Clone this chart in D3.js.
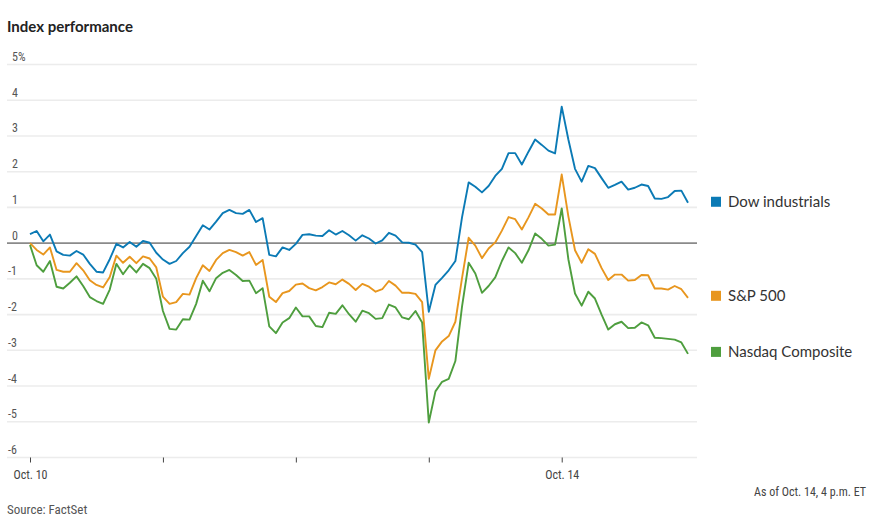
<!DOCTYPE html>
<html>
<head>
<meta charset="utf-8">
<script src="https://cdn.jsdelivr.net/npm/d3@7"></script>
<style>
  html, body { margin: 0; padding: 0; background: #fff; }
  svg { display: block; }
  .narrow { font-family: "Liberation Sans Narrow", "Arial Narrow", "Roboto Condensed", Roboto, "Liberation Sans", sans-serif; }
</style>
</head>
<body>
<svg id="chart" width="880" height="518"></svg>
<script>
// ---- Data (percent change vs. Oct. 7 close), sampled 20 steps per trading day ----
const seriesNames = ["Dow industrials", "S&P 500", "Nasdaq Composite"];
const seriesColors = ["#0b7ab5", "#e8961e", "#4e9e3e"];
const stepsPerDay = 20;

const dow = [
  0.25, 0.34, 0.05, 0.24, -0.23, -0.33, -0.35, -0.22, -0.32, -0.58,
  -0.80, -0.82, -0.45, -0.02, -0.12, 0.03, -0.10, 0.06, 0.01, -0.27,
  -0.46, -0.58, -0.50, -0.28, -0.10, 0.20, 0.50, 0.38, 0.60, 0.84,
  0.93, 0.84, 0.82, 0.93, 0.59, 0.70, -0.33, -0.37, -0.12, -0.19,
  -0.02, 0.23, 0.25, 0.21, 0.20, 0.36, 0.24, 0.34, 0.22, 0.07,
  0.22, 0.13, -0.01, 0.08, 0.29, 0.21, 0.02, 0.01, -0.04, -0.25,
  -1.92, -1.17, -0.97, -0.76, -0.50, 0.72, 1.70, 1.58, 1.42, 1.60,
  1.88, 2.08, 2.52, 2.52, 2.20, 2.56, 2.90, 2.75, 2.59, 2.51,
  3.82, 2.90, 2.08, 1.72, 2.16, 2.10, 1.82, 1.55, 1.63, 1.72,
  1.50, 1.55, 1.64, 1.60, 1.25, 1.24, 1.29, 1.46, 1.47, 1.13
];

const sp500 = [
  0.00, -0.19, -0.32, -0.12, -0.75, -0.80, -0.80, -0.56, -0.76, -1.04,
  -1.17, -1.24, -0.95, -0.35, -0.55, -0.38, -0.56, -0.37, -0.43, -0.68,
  -1.50, -1.70, -1.65, -1.42, -1.44, -0.98, -0.62, -0.78, -0.47, -0.28,
  -0.19, -0.25, -0.35, -0.25, -0.61, -0.47, -1.50, -1.65, -1.40, -1.34,
  -1.16, -1.13, -1.26, -1.32, -1.23, -1.10, -1.15, -1.02, -1.14, -1.31,
  -1.14, -1.22, -1.36, -1.29, -1.06, -1.19, -1.39, -1.39, -1.42, -1.65,
  -3.80, -3.00, -2.75, -2.60, -2.20, -0.98, 0.15, -0.07, -0.42, -0.15,
  0.02, 0.35, 0.73, 0.67, 0.38, 0.72, 1.10, 0.97, 0.80, 0.80,
  1.92, 0.75, -0.20, -0.55, -0.17, -0.30, -0.70, -1.03, -0.88, -0.88,
  -1.05, -1.03, -0.89, -0.90, -1.27, -1.27, -1.30, -1.20, -1.29, -1.53
];

const nasdaq = [
  -0.05, -0.62, -0.80, -0.50, -1.22, -1.27, -1.11, -0.93, -1.20, -1.51,
  -1.62, -1.70, -1.30, -0.58, -0.87, -0.62, -0.82, -0.58, -0.70, -1.00,
  -1.90, -2.40, -2.42, -2.13, -2.14, -1.70, -1.05, -1.35, -0.98, -0.83,
  -0.75, -0.89, -1.06, -1.05, -1.40, -1.26, -2.33, -2.52, -2.22, -2.10,
  -1.80, -2.05, -2.05, -2.32, -2.35, -1.95, -1.98, -1.74, -1.99, -2.20,
  -1.89, -1.96, -2.12, -2.10, -1.72, -1.80, -2.08, -2.13, -1.90, -2.22,
  -5.02, -4.15, -3.88, -3.80, -3.30, -1.78, -0.55, -0.85, -1.39, -1.20,
  -0.96, -0.50, -0.12, -0.28, -0.55, -0.20, 0.27, 0.12, -0.07, -0.04,
  0.97, -0.45, -1.41, -1.75, -1.36, -1.55, -2.00, -2.42, -2.27, -2.20,
  -2.38, -2.37, -2.22, -2.30, -2.65, -2.66, -2.68, -2.70, -2.78, -3.10
];

const yTicks = [5, 4, 3, 2, 1, 0, -1, -2, -3, -4, -5, -6];
const dayTicks = [0, 1, 2, 3, 4];
const dayTickLabels = ["Oct. 10", "", "", "", "Oct. 14"];

const titleText = "Index performance";
const noteText = "As of Oct. 14, 4 p.m. ET";
const sourceText = "Source: FactSet";

// ---- Layout ----
const svg = d3.select("#chart");
const allSeries = [dow, sp500, nasdaq];
const lastT = (dow.length - 1) / stepsPerDay;

const x = d3.scaleLinear().domain([0, lastT]).range([30, 688]);
const y = d3.scaleLinear().domain([-6, 5]).range([457.5, 64.5]);
const gridLeft = 7, gridRight = 697;

// Title
svg.append("text")
  .attr("x", 7).attr("y", 32)
  .attr("font-family", "Lato, 'Noto Sans', sans-serif")
  .attr("font-weight", 700)
  .attr("font-size", 15)
  .attr("fill", "#222")
  .text(titleText);

// Gridlines
svg.append("g").selectAll("line")
  .data(yTicks.filter(d => d !== 0))
  .join("line")
  .attr("x1", gridLeft).attr("x2", gridRight)
  .attr("y1", d => y(d)).attr("y2", d => y(d))
  .attr("stroke", "#ececec")
  .attr("stroke-width", 1.6);

// Y labels
svg.append("g").selectAll("text")
  .data(yTicks)
  .join("text")
  .attr("class", "narrow")
  .attr("x", d => d < 0 ? 8 : 12)
  .attr("y", d => y(d) - 3.5)
  .attr("font-size", 12)
  .attr("fill", "#555")
  .text(d => (d < 0 ? "-" + Math.abs(d) : d) + (d === 5 ? "%" : ""));

// X axis
const xAxis = d3.axisBottom(x)
  .tickValues(dayTicks)
  .tickSize(5)
  .tickPadding(8)
  .tickFormat((d, i) => dayTickLabels[i]);

const gx = svg.append("g")
  .attr("transform", `translate(0,${y(-6)})`)
  .call(xAxis);
gx.select(".domain").remove();
gx.selectAll(".tick line").attr("stroke", "#444").attr("stroke-width", 1);
gx.selectAll(".tick text")
  .attr("class", "narrow")
  .attr("font-size", 12)
  .attr("fill", "#444");

// Zero line
svg.append("line")
  .attr("x1", gridLeft).attr("x2", gridRight)
  .attr("y1", y(0)).attr("y2", y(0))
  .attr("stroke", "#8a8a8a")
  .attr("stroke-width", 1.6);

// Lines
const line = d3.line()
  .x((d, i) => x(i / stepsPerDay))
  .y(d => y(d));

svg.append("g").selectAll("path")
  .data(allSeries)
  .join("path")
  .attr("d", d => line(d))
  .attr("fill", "none")
  .attr("stroke", (d, i) => seriesColors[i])
  .attr("stroke-width", 1.9)
  .attr("stroke-linejoin", "round");

// Legend (placed at each series' final value)
const legendYOffsets = [-1, -2, -2];
const legend = svg.append("g");
allSeries.forEach((s, i) => {
  const ly = y(s[s.length - 1]) + legendYOffsets[i];
  legend.append("rect")
    .attr("x", 711).attr("y", ly - 5)
    .attr("width", 10).attr("height", 10)
    .attr("fill", seriesColors[i]);
  legend.append("text")
    .attr("x", 728).attr("y", ly + 5)
    .attr("font-family", "Lato, 'Noto Sans', sans-serif")
    .attr("font-size", 15)
    .attr("fill", "#333")
    .text(seriesNames[i]);
});

// Notes
svg.append("text")
  .attr("class", "narrow")
  .attr("x", 866).attr("y", 496)
  .attr("text-anchor", "end")
  .attr("font-size", 12)
  .attr("fill", "#444")
  .text(noteText);

svg.append("text")
  .attr("class", "narrow")
  .attr("x", 7).attr("y", 514)
  .attr("font-size", 13)
  .attr("fill", "#555")
  .text(sourceText);
</script>
</body>
</html>
